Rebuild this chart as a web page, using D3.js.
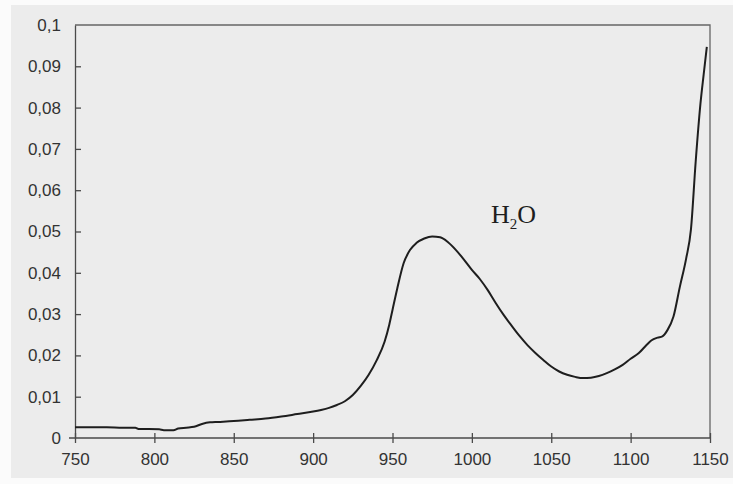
<!DOCTYPE html>
<html>
<head>
<meta charset="utf-8">
<script src="https://cdn.jsdelivr.net/npm/d3@7"></script>
<style>
  html, body { margin: 0; padding: 0; background: #fbfbfb; }
  svg { display: block; }
  .tick text { font-family: 'Liberation Sans', Arial, sans-serif; font-size: 17px; fill: #333; }
</style>
</head>
<body>
<svg id="chart" width="733" height="484"></svg>
<script>
// Absorption spectrum, wavelength (nm) vs absorbance
const wavelengths = [750, 760, 770, 780, 788, 790, 803, 806, 812, 815, 820, 825, 830, 835, 840, 850, 860, 870, 880, 890,
  900, 905, 910, 915, 920, 925, 930, 935, 940, 945, 948, 950, 953, 957, 961, 965, 970, 975, 980, 985, 990,
  995, 1000, 1005, 1010, 1015, 1020, 1025, 1030, 1035, 1040, 1045, 1050, 1055, 1060, 1065, 1070, 1075, 1080, 1085, 1090,
  1095, 1100, 1105, 1110, 1113, 1117, 1120, 1123, 1127, 1131, 1135, 1138, 1141, 1144, 1146, 1148];
const absorbance = [0.0026, 0.0026, 0.0026, 0.0025, 0.0025, 0.0022, 0.0021, 0.0019, 0.0019, 0.0023, 0.0025, 0.0027, 0.0034, 0.0038, 0.0039, 0.0041, 0.0044, 0.0047, 0.0052, 0.0058,
  0.0064, 0.0068, 0.0073, 0.0080, 0.0089, 0.0104, 0.0126, 0.0153, 0.0188, 0.0233, 0.0275, 0.0310, 0.0362, 0.0423, 0.0455, 0.0472, 0.0483, 0.0488, 0.0486, 0.0474, 0.0455,
  0.0432, 0.0407, 0.0385, 0.0358, 0.0327, 0.0298, 0.0272, 0.0247, 0.0225, 0.0206, 0.0189, 0.0173, 0.0161, 0.0153, 0.0148, 0.0145, 0.0146, 0.0150, 0.0157, 0.0166,
  0.0177, 0.0192, 0.0205, 0.0225, 0.0236, 0.0243, 0.0246, 0.0260, 0.0294, 0.0366, 0.0435, 0.0505, 0.0670, 0.0810, 0.0880, 0.0947];
const xTicks = [750, 800, 850, 900, 950, 1000, 1050, 1100, 1150];
const yTicks = [0, 0.01, 0.02, 0.03, 0.04, 0.05, 0.06, 0.07, 0.08, 0.09, 0.1];
const peakLabel = { x: 1012, y: 0.052 };

const svg = d3.select("#chart");
const m = { left: 75, right: 710, top: 25, bottom: 438 };

// page background
svg.append("rect").attr("x", 11).attr("y", 5).attr("width", 722).attr("height", 473).attr("fill", "#ececec");

const x = d3.scaleLinear().domain([750, 1150]).range([m.left, m.right]);
const y = d3.scaleLinear().domain([0, 0.1]).range([m.bottom, m.top]);

const fmtX = d3.format("d");
const fmtY = v => v === 0 ? "0" : d3.format(".2~f")(v).replace(".", ",");
const axisColor = "#4a4a4a";

// frame: top and right edges
svg.append("path")
  .attr("d", `M${m.left},${m.top}H${m.right}V${m.bottom}`)
  .attr("fill", "none").attr("stroke", "#666").attr("stroke-width", 1.3);

// x axis
const xAxis = svg.append("g").attr("transform", `translate(0,${m.bottom})`)
  .call(d3.axisBottom(x).tickValues(xTicks).tickFormat(fmtX).tickSize(5).tickSizeOuter(0).tickPadding(10));
xAxis.select(".domain").attr("d", `M${m.left - 6},0H${m.right}`);
xAxis.selectAll(".tick line").attr("y1", -5);

// y axis
const yAxis = svg.append("g").attr("transform", `translate(${m.left},0)`)
  .call(d3.axisLeft(y).tickValues(yTicks).tickFormat(fmtY).tickSize(6).tickSizeOuter(0).tickPadding(8));
yAxis.selectAll(".tick line").attr("x2", 6);
yAxis.selectAll(".tick").filter(d => d === 0.1).select("line").remove();
yAxis.selectAll(".tick").filter(d => d === 0).select("line").remove();

[xAxis, yAxis].forEach(g => {
  g.selectAll(".domain, .tick line").attr("stroke", axisColor).attr("stroke-width", 1.3);
});

// spectrum curve
const data = wavelengths.map((w, i) => [w, absorbance[i]]);
svg.append("path")
  .datum(data)
  .attr("fill", "none")
  .attr("stroke", "#1e1e1e")
  .attr("stroke-width", 2)
  .attr("stroke-linejoin", "round")
  .attr("d", d3.line().x(d => x(d[0])).y(d => y(d[1])).curve(d3.curveMonotoneX));

// peak label
const lbl = svg.append("text")
  .attr("x", x(peakLabel.x)).attr("y", y(peakLabel.y))
  .attr("font-family", "'Liberation Serif', 'Times New Roman', serif")
  .attr("font-size", 26).attr("fill", "#1e1e1e");
lbl.append("tspan").text("H");
lbl.append("tspan").attr("font-size", 15).attr("dy", 6).text("2");
lbl.append("tspan").attr("dy", -6).text("O");
</script>
</body>
</html>
